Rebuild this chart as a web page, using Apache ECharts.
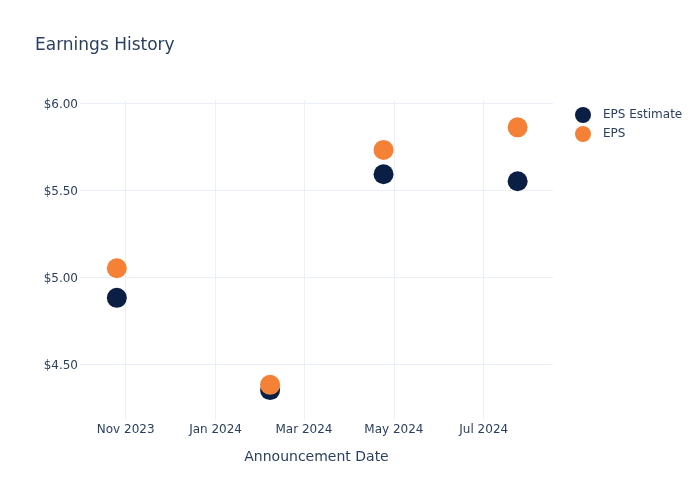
<!DOCTYPE html>
<html><head><meta charset="utf-8">
<script src="https://cdn.jsdelivr.net/npm/echarts@6/dist/echarts.min.js"></script>
<style>html,body{margin:0;padding:0;background:#fff}#c{width:700px;height:500px}</style>
</head><body><div id="c"></div>
<script>
const dates = ['2023-10-26', '2024-02-07', '2024-04-24', '2024-07-24'];
const epsEstimate = [4.88, 4.35, 5.59, 5.55];
const eps = [5.05, 4.38, 5.73, 5.86];
const xTicks = ['2023-11-01', '2024-01-01', '2024-03-01', '2024-05-01', '2024-07-01'];
const yTicks = [4.5, 5.0, 5.5, 6.0];
const monthNames = ['Jan','Feb','Mar','Apr','May','Jun','Jul','Aug','Sep','Oct','Nov','Dec'];

const ts = s => Date.parse(s + 'T00:00:00Z');
const font = 'DejaVu Sans';
const txt = '#2a3f5f';
const grid = '#EBF0F8';

const chart = echarts.init(document.getElementById('c'), null, {renderer: 'canvas'});
chart.setOption({
  animation: false,
  textStyle: {fontFamily: font},
  title: {text: 'Earnings History', left: 30, top: 32, textStyle: {fontFamily: font, fontSize: 17, fontWeight: 'normal', color: txt}},
  legend: {
    orient: 'vertical', left: 570, top: 102, itemWidth: 30, itemHeight: 16, itemGap: 3,
    textStyle: {fontFamily: font, fontSize: 12, color: txt},
    data: [{name: 'EPS Estimate', icon: 'circle'}, {name: 'EPS', icon: 'circle'}]
  },
  grid: {left: 80, right: 147, top: 100, bottom: 80, containLabel: false},
  xAxis: {
    type: 'value',
    min: ts('2023-10-01'), max: ts('2024-08-17'),
    name: 'Announcement Date', nameLocation: 'middle', nameGap: 30,
    nameTextStyle: {fontFamily: font, fontSize: 14, color: txt},
    axisLine: {show: false}, 
    axisTick: {show: false, customValues: xTicks.map(ts)},
    axisLabel: {customValues: xTicks.map(ts), fontFamily: font, fontSize: 12, color: txt, margin: 4,
      formatter: v => { const d = new Date(v); return monthNames[d.getUTCMonth()] + ' ' + d.getUTCFullYear(); }},
    splitLine: {show: true, lineStyle: {color: grid, width: 1}}
  },
  yAxis: {
    type: 'value', min: 4.178, max: 6.017,
    axisLine: {show: false},
    axisTick: {show: false, customValues: yTicks},
    axisLabel: {customValues: yTicks, color: txt, margin: 2,
      formatter: v => '{a|$' + v.toFixed(2) + '}',
      rich: {a: {fontFamily: font, fontSize: 12, color: txt, padding: [4, 0, 0, 0]}}},
    splitLine: {show: true, lineStyle: {color: grid, width: 1}}
  },
  series: [
    {name: 'EPS Estimate', type: 'scatter', symbolSize: 20, itemStyle: {color: '#0B1F45', opacity: 1},
      data: dates.map((d, i) => [ts(d), epsEstimate[i]])},
    {name: 'EPS', type: 'scatter', symbolSize: 20, itemStyle: {color: '#F58137', opacity: 1},
      data: dates.map((d, i) => [ts(d), eps[i]])}
  ]
});
</script></body></html>
